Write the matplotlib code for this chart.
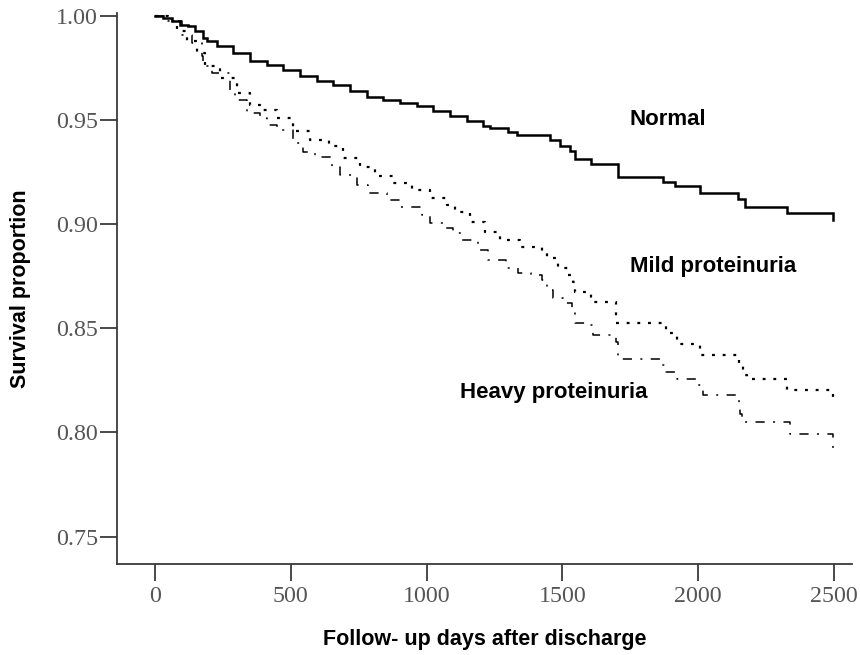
import matplotlib
matplotlib.use("Agg")
import matplotlib.pyplot as plt

# Kaplan-Meier curves (day of drop, survival after drop)
normal_days = [0, 6, 31, 61, 92, 123, 147, 178, 190, 227, 288, 350, 411, 472,
               534, 595, 656, 718, 779, 840, 902, 963, 1024, 1086, 1147, 1208,
               1233, 1300, 1331, 1454, 1491, 1527, 1546, 1607, 1705, 1871, 1914,
               2006, 2147, 2172, 2325, 2497]
normal_surv = [1.0, 0.9997, 0.9989, 0.9973, 0.9957, 0.9949, 0.9925, 0.9893,
               0.9877, 0.9852, 0.9821, 0.978, 0.9764, 0.974, 0.9708, 0.9684,
               0.9668, 0.9636, 0.9609, 0.9596, 0.958, 0.9564, 0.954, 0.9516,
               0.9492, 0.9468, 0.946, 0.944, 0.9428, 0.9404, 0.9372, 0.9352,
               0.9311, 0.9288, 0.9227, 0.9203, 0.9184, 0.915, 0.912, 0.9083,
               0.9054, 0.902]

mild_days = [0, 49, 80, 117, 153, 184, 239, 301, 350, 399, 448, 509, 570, 641,
             693, 755, 810, 877, 945, 1012, 1074, 1104, 1159, 1215, 1270, 1343,
             1423, 1442, 1484, 1521, 1540, 1546, 1607, 1699, 1880, 1920, 2006,
             2150, 2165, 2180, 2325, 2497]
mild_surv = [1.0, 0.9973, 0.9925, 0.9877, 0.982, 0.9756, 0.970, 0.9628, 0.9572,
             0.9548, 0.9508, 0.9444, 0.9404, 0.9372, 0.9316, 0.9276, 0.9231,
             0.9196, 0.9163, 0.9123, 0.9091, 0.9059, 0.9011, 0.8963, 0.8923,
             0.8891, 0.8867, 0.8835, 0.8787, 0.8755, 0.8723, 0.8675, 0.8627,
             0.8524, 0.8475, 0.8426, 0.837, 0.832, 0.8274, 0.8258, 0.8202,
             0.8154]

heavy_days = [0, 49, 98, 135, 172, 178, 209, 276, 294, 337, 386, 411, 448, 509,
              546, 589, 650, 681, 742, 785, 853, 902, 982, 1012, 1061, 1098,
              1129, 1190, 1227, 1294, 1337, 1386, 1423, 1442, 1466, 1503, 1534,
              1546, 1589, 1613, 1699, 1706, 1859, 1880, 1920, 2000, 2018, 2150,
              2153, 2160, 2337, 2497]
heavy_surv = [1.0, 0.9973, 0.9909, 0.9869, 0.9804, 0.9756, 0.9724, 0.9628,
              0.9596, 0.9532, 0.9508, 0.9476, 0.9452, 0.9388, 0.9348, 0.9324,
              0.9276, 0.9236, 0.9188, 0.9148, 0.9115, 0.9083, 0.9043, 0.9003,
              0.8979, 0.8955, 0.8923, 0.8875, 0.8827, 0.8787, 0.8763, 0.8755,
              0.8731, 0.8683, 0.8643, 0.8619, 0.8571, 0.8523, 0.8514, 0.8466,
              0.8434, 0.8354, 0.8322, 0.829, 0.8258, 0.8226, 0.8178, 0.8138,
              0.809, 0.805, 0.7994, 0.7922]

x_ticks = [0, 500, 1000, 1500, 2000, 2500]
y_ticks = [0.75, 0.80, 0.85, 0.90, 0.95, 1.00]

fig = plt.figure(figsize=(8.6, 6.55), dpi=100)
ax = fig.add_axes([0.1366, 0.139, 0.8541, 0.8413])

ax.plot(normal_days, normal_surv, drawstyle="steps-post", color="black",
        lw=1.8, solid_joinstyle="miter")
ax.plot(mild_days, mild_surv, drawstyle="steps-post", color="black",
        lw=1.6, linestyle=(0, (1.3, 3.5)), dash_capstyle="butt")
ax.plot(heavy_days, heavy_surv, drawstyle="steps-post", color="black",
        lw=1.1, linestyle=(0, (6, 5.5, 1.3, 5.5)), dash_capstyle="butt")

lab = dict(family="Liberation Sans", fontweight="bold", fontsize=16,
           va="center", ha="left")
ax.text(1748, 0.950, "Normal", **lab)
ax.text(1748, 0.8795, "Mild proteinuria", **lab)
ax.text(1123, 0.8194, "Heavy proteinuria", **lab)

ax.set_xlim(-138, 2566)
ax.set_ylim(0.7369, 1.0013)
ax.set_xticks(x_ticks)
ax.set_yticks(y_ticks)
ax.set_xticklabels([str(t) for t in x_ticks])
ax.set_yticklabels([f"{t:.2f}" for t in y_ticks])

for s in ["top", "right"]:
    ax.spines[s].set_visible(False)
for s in ["left", "bottom"]:
    ax.spines[s].set_color("#3a3a3a")
    ax.spines[s].set_linewidth(1.3)

ax.tick_params(axis="both", direction="out", length=12, width=1.3,
               color="#3a3a3a", labelcolor="#555555", labelsize=17.3)
ax.tick_params(axis="x", pad=4)
ax.tick_params(axis="y", pad=2)
for t in ax.get_xticklabels() + ax.get_yticklabels():
    t.set_fontfamily("Liberation Serif")

ax.set_xlabel("Follow- up days after discharge", family="Liberation Sans",
              fontweight="bold", fontsize=15.5)
ax.set_ylabel("Survival proportion", family="Liberation Sans",
              fontweight="bold", fontsize=15.5)
ax.xaxis.set_label_coords(0.5, -0.118)
ax.yaxis.set_label_coords(-0.118, 0.5)

fig.savefig("out.png", dpi=100)
